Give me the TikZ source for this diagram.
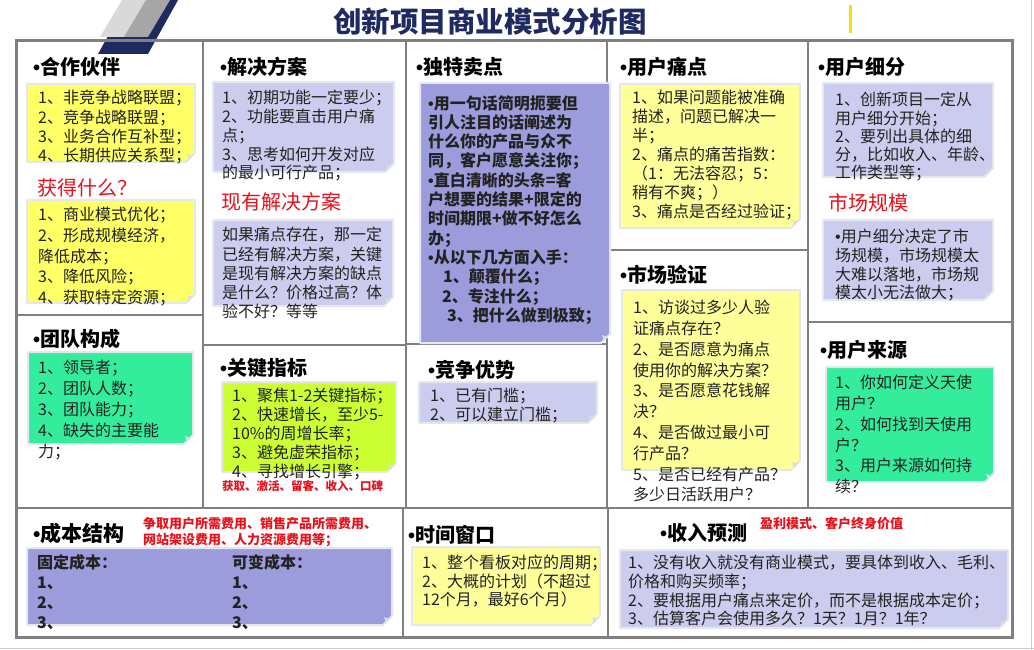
\documentclass[tikz,border=0pt]{standalone}
\usepackage{fontspec}
\setmainfont{Noto Sans CJK SC}
\newfontfamily\bulletfont{Liberation Sans}
\newcommand{\itemdot}{{\bulletfont •}}
\usetikzlibrary{positioning,calc}
\definecolor{navy}{HTML}{1F2A60}
\definecolor{framegrey}{HTML}{808080}
\definecolor{bodytext}{HTML}{222222}
\definecolor{redtext}{HTML}{E8101A}
\definecolor{yellownote}{HTML}{FFFF66}
\definecolor{paleyellow}{HTML}{FFFF99}
\definecolor{lavender}{HTML}{CCCCEE}
\definecolor{periwinkle}{HTML}{9C9CDC}
\definecolor{mint}{HTML}{33EC9C}
\definecolor{lime}{HTML}{CCFF33}
\definecolor{memoedge}{HTML}{E4E8EE}
\definecolor{memocurl}{HTML}{D8DDE2}

\begin{document}
\begin{tikzpicture}[x=1pt, y=-1pt,
  cellline/.style={draw=framegrey, line width=2pt},
  head/.style={anchor=west, inner sep=0pt, font=\bfseries\fontsize{20}{24}\selectfont},
  redhead/.style={anchor=west, inner sep=0pt, text=redtext, font=\fontsize{20}{24}\selectfont},
  body/.style={anchor=north west, align=left, inner sep=0pt, text=bodytext, font=\fontsize{16}{#1}\selectfont},
  body/.default=19.5,
  hint/.style={anchor=north west, align=left, inner sep=0pt, text=redtext, font=\bfseries\fontsize{13}{16}\selectfont}
  ]
  \useasboundingbox (0,0) rectangle (1034,650);
  % slide decoration
  \fill[navy] (128,0) -- (178,0) -- (148,54) -- (98,54) -- cycle;
  \fill[black!15] (122,0) -- (148,0) -- (126,37) -- (100,37) -- cycle;
  \fill[black!35] (146,0) -- (170,0) -- (148,37) -- (124,37) -- cycle;
  \fill[yellow!80!orange] (849,5) rectangle (852,33);
  \draw[black!20, line width=1pt] (0,648) -- (1034,648);
  \draw[black!20, line width=1pt] (1031,0) -- (1031,650);
  \node[inner sep=0pt, text=navy, font=\bfseries\fontsize{28.5}{32}\selectfont] (title) at (490,22) {创新项目商业模式分析图};
  % grid
  \draw[cellline] (203,41) -- (203,508);
  \draw[cellline] (406,41) -- (406,508);
  \draw[cellline] (607,41) -- (607,508);
  \draw[cellline] (808,41) -- (808,508);
  \draw[cellline] (16,508) -- (1012,508);
  \draw[cellline] (403,508) -- (403,637);
  \draw[cellline] (608,508) -- (608,637);
  \draw[cellline] (16,315) -- (203,315);
  \draw[cellline] (203,345) -- (406,345);
  \draw[cellline] (406,344) -- (607,344);
  \draw[cellline] (607,250) -- (808,250);
  \draw[cellline] (808,322) -- (1012,322);
  \draw[framegrey, line width=3pt] (16,41) rectangle (1012,637);
  % sticky notes
  \foreach \xa/\ya/\xb/\yb/\col in {27/84/195/162/yellownote, 27/200/195/303/yellownote,
      28/352/193/444/mint, 213/82/394/172/lavender, 213/220/393/306/lavender,
      222/382/396/472/lime, 420/83/610/343/periwinkle, 419/382/597/423/lavender,
      620/84/800/228/paleyellow, 622/290/800/470/paleyellow, 823/83/993/177/lavender,
      823/220/993/300/lavender, 826/367/994/482/mint, 27/548/392/625/periwinkle,
      412/547/600/625/paleyellow, 620/550/1008/628/lavender} {
    \filldraw[fill=\col, draw=memoedge, line width=2pt, line join=round]
      (\xa,\ya) -- (\xb,\ya) -- (\xb,\yb-9) -- (\xb-9,\yb) -- (\xa,\yb) -- cycle;
    \fill[memocurl] (\xb,\yb-9) -- (\xb-9,\yb) .. controls (\xb-6,\yb-3) .. (\xb-8,\yb-8)
      .. controls (\xb-3,\yb-6) .. (\xb,\yb-9) -- cycle;
  }
  % column 1
  \node[head] (partner) at (33,67) {\itemdot 合作伙伴};
  \node[body=19.3] (partnerlist) at (38,90) {1、非竞争战略联盟；\\2、竞争战略联盟；\\3、业务合作互补型；\\4、长期供应关系型；};
  \node[redhead] (gain) at (37,188) {获得什么？};
  \node[body=20.7] (gainlist) at (38,207) {1、商业模式优化；\\2、形成规模经济，\\降低成本；\\3、降低风险；\\4、获取特定资源；};
  \node[head] (team) at (33,339) {\itemdot 团队构成};
  \node[body=21] (teamlist) at (38,360) {1、领导者；\\2、团队人数；\\3、团队能力；\\4、缺失的主要能\\力；};
  % column 2
  \node[head] (solution) at (220,67) {\itemdot 解决方案};
  \node[body=18.8] (solutionlist) at (222,90) {1、初期功能一定要少；\\2、功能要直击用户痛\\点；\\3、思考如何开发对应\\的最小可行产品；};
  \node[redhead] (existing) at (221,202) {现有解决方案};
  \node[body=19.3] (existingtext) at (222,227) {如果痛点存在，那一定\\已经有解决方案，关键\\是现有解决方案的缺点\\是什么？价格过高？体\\验不好？等等};
  \node[head] (metric) at (220,368) {\itemdot 关键指标};
  \node[body=19] (metriclist) at (232,388) {1、聚焦1-2关键指标；\\2、快速增长，至少5-\\10\%的周增长率；\\3、避免虚荣指标；\\4、寻找增长引擎；};
  \node[hint, anchor=west, font=\bfseries\fontsize{11.5}{14}\selectfont] (engine) at (222,486) {获取、激活、留客、收入、口碑};
  % column 3
  \node[head] (usp) at (416,67) {\itemdot 独特卖点};
  \node[body, font=\bfseries\fontsize{16}{19.3}\selectfont] (usptext) at (428,95) {\itemdot 用一句话简明扼要但\\引人注目的话阐述为\\什么你的产品与众不\\同，客户愿意关注你；\\\itemdot 直白清晰的头条=客\\户想要的结果+限定的\\时间期限+做不好怎么\\办；\\\itemdot 从以下几方面入手：\\\hspace*{15pt}1、颠覆什么；\\\hspace*{14pt}2、专注什么；\\\hspace*{19pt}3、把什么做到极致；};
  \node[head] (compete) at (428,370) {\itemdot 竞争优势};
  \node[body=19] (competelist) at (430,388) {1、已有门槛；\\2、可以建立门槛；};
  % column 4
  \node[head] (pain) at (620,67) {\itemdot 用户痛点};
  \node[body=19] (painlist) at (632,90) {1、如果问题能被准确\\描述，问题已解决一\\半；\\2、痛点的痛苦指数：\\（1：无法容忍；5：\\稍有不爽；）\\3、痛点是否经过验证；};
  \node[head] (verify) at (620,275) {\itemdot 市场验证};
  \node[body=20.8] (verifylist) at (633,300) {1、访谈过多少人验\\证痛点存在？\\2、是否愿意为痛点\\使用你的解决方案？\\3、是否愿意花钱解\\决？\\4、是否做过最小可\\行产品？\\5、是否已经有产品？\\多少日活跃用户？};
  % column 5
  \node[head] (segment) at (818,67) {\itemdot 用户细分};
  \node[body=18.3] (segmentlist) at (835,92) {1、创新项目一定从\\用户细分开始；\\2、要列出具体的细\\分，比如收入、年龄、\\工作类型等；};
  \node[redhead] (market) at (828,203) {市场规模};
  \node[body=18.7] (markettext) at (835,229) {\itemdot 用户细分决定了市\\场规模，市场规模太\\大难以落地，市场规\\模太小无法做大；};
  \node[head] (source) at (820,350) {\itemdot 用户来源};
  \node[body=20.8] (sourcelist) at (835,375) {1、你如何定义天使\\用户？\\2、如何找到天使用\\户？\\3、用户来源如何持\\续？};
  % bottom row
  \node[head, font=\bfseries\fontsize{21}{24}\selectfont] (cost) at (33,533) {\itemdot 成本结构};
  \node[hint] (costhint) at (143,517) {争取用户所需费用、销售产品所需费用、\\网站架设费用、人力资源费用等；};
  \node[body, font=\bfseries\fontsize{16}{20}\selectfont] (fixed) at (37,554) {固定成本：\\1、\\2、\\3、};
  \node[body, font=\bfseries\fontsize{16}{20}\selectfont] (variable) at (232,554) {可变成本：\\1、\\2、\\3、};
  \node[head] (window) at (408,535) {\itemdot 时间窗口};
  \node[body=18.5] (windowlist) at (422,555) {1、整个看板对应的周期；\\2、大概的计划（不超过\\12个月，最好6个月）};
  \node[head] (revenue) at (660,533) {\itemdot 收入预测};
  \node[hint] (revenuehint) at (760,517) {盈利模式、客户终身价值};
  \node[body=18.7] (revenuelist) at (628,555) {1、没有收入就没有商业模式，要具体到收入、毛利、\\价格和购买频率；\\2、要根据用户痛点来定价，而不是根据成本定价；\\3、估算客户会使用多久？1天？1月？1年？};
\end{tikzpicture}
\end{document}
